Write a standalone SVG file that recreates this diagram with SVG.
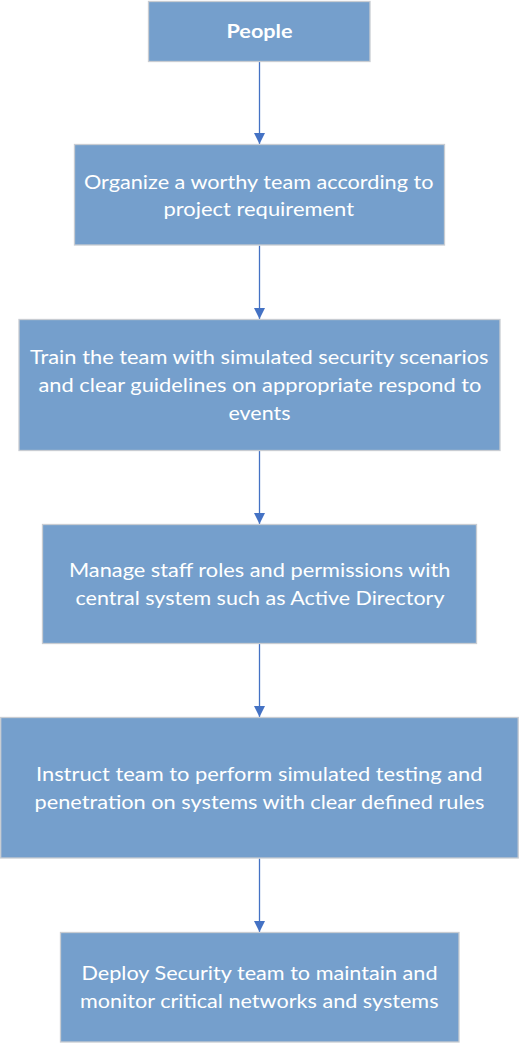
<svg xmlns="http://www.w3.org/2000/svg" width="519" height="1043" viewBox="0 0 519 1043">
<style>
.box{fill:#759fcc;stroke:#c8ccd2;stroke-width:1.3}
.t{font-family:Lato,"Open Sans","Liberation Sans",sans-serif;font-size:18.5px;fill:#ffffff;text-anchor:start}
.b{font-weight:bold}
.c{stroke:#4472c4;stroke-width:1.3;fill:none}
</style>
<defs>
<marker id="ah" markerWidth="11" markerHeight="11" refX="11" refY="5.5" orient="auto" markerUnits="userSpaceOnUse">
<path d="M0,0 L11,5.5 L0,11 Z" fill="#4472c4"/>
</marker>
</defs>
<rect width="519" height="1043" fill="#ffffff"/>
<g id="connectors">
<line class="c" x1="259.5" y1="62" x2="259.5" y2="144" marker-end="url(#ah)"/>
<line class="c" x1="259.5" y1="245.5" x2="259.5" y2="319" marker-end="url(#ah)"/>
<line class="c" x1="259.5" y1="451" x2="259.5" y2="524" marker-end="url(#ah)"/>
<line class="c" x1="259.5" y1="643.5" x2="259.5" y2="717" marker-end="url(#ah)"/>
<line class="c" x1="259.5" y1="858.5" x2="259.5" y2="932" marker-end="url(#ah)"/>
</g>
<g id="node-people">
<rect class="box" x="148.5" y="1.5" width="221.5" height="60"/>
<text class="t b" x="226.5" y="38" textLength="66" lengthAdjust="spacingAndGlyphs">People</text>
</g>
<g id="node-organize">
<rect class="box" x="74.5" y="144.5" width="370" height="100.5"/>
<text class="t" x="84" y="188.5" textLength="349.5" lengthAdjust="spacingAndGlyphs">Organize a worthy team according to</text>
<text class="t" x="163.5" y="216" textLength="190.5" lengthAdjust="spacingAndGlyphs">project requirement</text>
</g>
<g id="node-train">
<rect class="box" x="19" y="319.5" width="481" height="131"/>
<text class="t" x="30" y="363.5" textLength="458.5" lengthAdjust="spacingAndGlyphs">Train the team with simulated security scenarios</text>
<text class="t" x="38.5" y="391.5" textLength="443" lengthAdjust="spacingAndGlyphs">and clear guidelines on appropriate respond to</text>
<text class="t" x="228.5" y="419.5" textLength="62" lengthAdjust="spacingAndGlyphs">events</text>
</g>
<g id="node-manage">
<rect class="box" x="42.5" y="524.5" width="434" height="119"/>
<text class="t" x="69" y="577" textLength="381.5" lengthAdjust="spacingAndGlyphs">Manage staff roles and permissions with</text>
<text class="t" x="75.5" y="604.5" textLength="369" lengthAdjust="spacingAndGlyphs">central system such as Active Directory</text>
</g>
<g id="node-instruct">
<rect class="box" x="0.7" y="717.5" width="517.5" height="140.5"/>
<text class="t" x="36" y="780.5" textLength="446.5" lengthAdjust="spacingAndGlyphs">Instruct team to perform simulated testing and</text>
<text class="t" x="34.5" y="808.5" textLength="450" lengthAdjust="spacingAndGlyphs">penetration on systems with clear defined rules</text>
</g>
<g id="node-deploy">
<rect class="box" x="60.5" y="932.5" width="398.5" height="109.5"/>
<text class="t" x="81.5" y="980" textLength="356" lengthAdjust="spacingAndGlyphs">Deploy Security team to maintain and</text>
<text class="t" x="80" y="1008" textLength="358.5" lengthAdjust="spacingAndGlyphs">monitor critical networks and systems</text>
</g>
</svg>
